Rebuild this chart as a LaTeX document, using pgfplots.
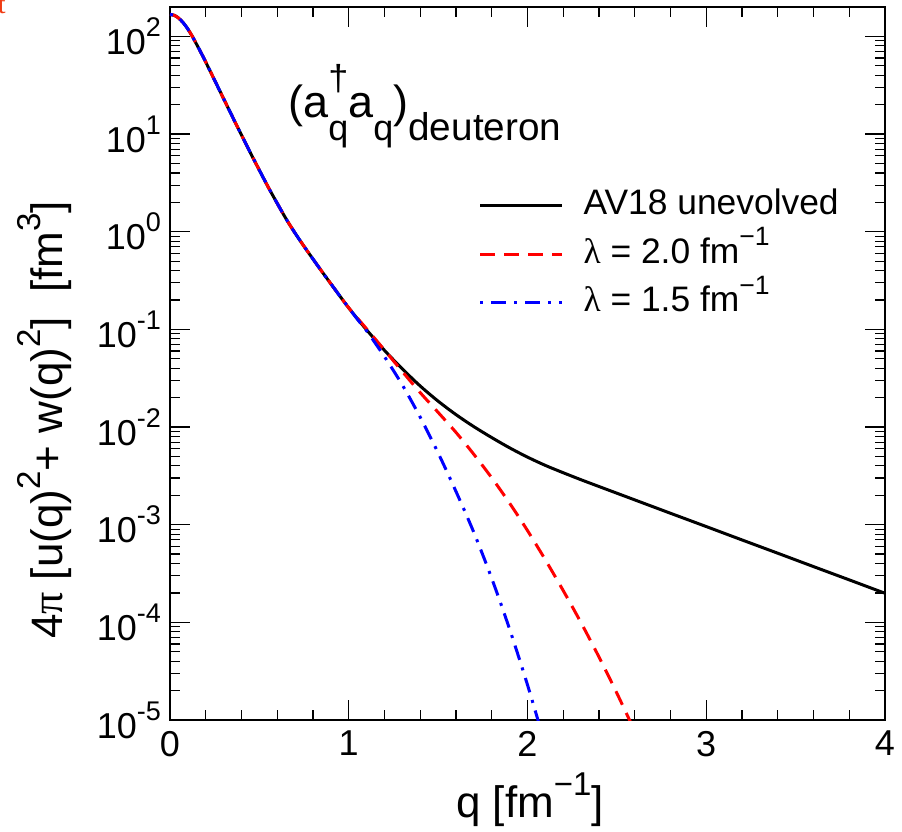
\documentclass[border=0pt]{standalone}
\usepackage{fontspec}
\setmainfont{Liberation Sans}
\newfontfamily\serf{Liberation Serif}
\usepackage{graphicx}
\usepackage{pgfplots}
\usepackage{pgfplotstable}
\pgfplotsset{compat=1.18}
\newcommand\sups[1]{\raisebox{0.5em}{\scalebox{0.75}{#1}}}
\newcommand\subs[1]{\raisebox{-0.5em}{\scalebox{0.8}{#1}}}

\pgfplotstableread{
q y
0 167.9
0.025 164.1
0.05 153.1
0.075 137.1
0.1 118.9
0.125 100.0
0.15 82.22
0.175 67.30
0.2 54.58
0.25 35.48
0.3 23.01
0.35 14.96
0.4 9.772
0.45 6.412
0.5 4.266
0.55 2.851
0.6 1.950
0.65 1.349
0.7 0.9661
0.75 0.7079
0.8 0.5248
0.85 0.3908
0.9 0.2931
0.95 0.2198
1.0 0.1660
1.05 0.1274
1.1 0.09886
1.2 0.06095
1.3 0.03936
1.4 0.02630
1.5 0.01841
1.6 0.01340
1.7 0.01009
1.8 0.007798
1.9 0.006124
2.0 0.004920
2.1 0.004046
2.2 0.003404
2.3 0.002884
2.4 0.002460
2.6 0.001795
2.8 0.001309
3.0 0.0009572
3.2 0.0006982
3.4 0.0005105
3.6 0.0003724
3.8 0.0002723
4.0 0.0001986
}\avxviii

\pgfplotstableread{
q y
0 167.9
0.025 164.1
0.05 153.1
0.075 137.1
0.1 118.9
0.125 100.0
0.15 82.22
0.175 67.30
0.2 54.58
0.25 35.48
0.3 23.01
0.35 14.96
0.4 9.772
0.45 6.412
0.5 4.266
0.55 2.851
0.6 1.950
0.65 1.349
0.7 0.9661
0.75 0.7079
0.8 0.5248
0.85 0.3908
0.9 0.2931
0.95 0.2198
1.0 0.1660
1.1 0.1012
1.2 0.06138
1.3 0.03698
1.4 0.02249
1.5 0.01413
1.6 0.008810
1.7 0.005248
1.8 0.003020
1.9 0.001660
2.0 0.0008710
2.1 0.0004365
2.2 0.0002113
2.3 0.00009886
2.4 0.00004416
2.5 0.00001884
2.6 0.000007674
}\lamtwo

\pgfplotstableread{
q y
0 167.9
0.025 164.1
0.05 153.1
0.075 137.1
0.1 118.9
0.125 100.0
0.15 82.22
0.175 67.30
0.2 54.58
0.25 35.48
0.3 23.01
0.35 14.96
0.4 9.772
0.45 6.412
0.5 4.266
0.55 2.851
0.6 1.950
0.65 1.349
0.7 0.9661
0.75 0.7079
0.8 0.5248
0.85 0.3908
0.9 0.2931
0.95 0.2198
1.0 0.1660
1.05 0.1259
1.1 0.09661
1.2 0.05248
1.3 0.02692
1.4 0.01259
1.5 0.005433
1.6 0.002188
1.7 0.0008318
1.8 0.0002818
1.9 0.00008511
2.0 0.00002291
2.1 0.000005495
}\lamonefive

\begin{document}
\begin{tikzpicture}
\useasboundingbox (-85pt,-56pt) rectangle (366pt,360pt);
\begin{axis}[
  at={(0,0)}, anchor=south west,
  scale only axis, width=357.5pt, height=356.5pt,
  xmin=0, xmax=4, ymode=log, ymin=1e-5, ymax=200,
  xtick={0,1,2,3,4}, xticklabels={0,1,2,3,4},
  minor x tick num=4,
  ytick={1e-5,1e-4,1e-3,1e-2,1e-1,1,10,100},
  yticklabels={10\sups{-5},10\sups{-4},10\sups{-3},10\sups{-2},10\sups{-1},10\sups{0},10\sups{1},10\sups{2}},
  minor ytick={2e-5,3e-5,4e-5,5e-5,6e-5,7e-5,8e-5,9e-5,
    2e-4,3e-4,4e-4,5e-4,6e-4,7e-4,8e-4,9e-4,
    2e-3,3e-3,4e-3,5e-3,6e-3,7e-3,8e-3,9e-3,
    2e-2,3e-2,4e-2,5e-2,6e-2,7e-2,8e-2,9e-2,
    0.2,0.3,0.4,0.5,0.6,0.7,0.8,0.9,
    2,3,4,5,6,7,8,9,20,30,40,50,60,70,80,90},
  tick align=inside, tick pos=both,
  xticklabel pos=bottom, yticklabel pos=left,
  major tick length=10pt, minor tick length=5pt,
  axis line style={line width=1pt},
  every tick/.style={black, line width=0.6pt},
  ticklabel style={font=\fontsize{18}{18}\selectfont},
  xticklabel style={yshift=-2pt},
  yticklabel style={xshift=-1pt},
  legend image code/.code={\draw[#1] (0pt,0pt) -- (41pt,0pt); \path (51pt,0pt);},
  legend style={at={(rel axis cs:0.431,0.745)}, anchor=north west, draw=none, fill=none,
    inner sep=0pt, font=\fontsize{17.7}{18}\selectfont, row sep=7.8pt,
    nodes={inner sep=0pt, text height=12.7pt, text depth=3.8pt}},
  legend cell align=left,
]
\addplot[black, line width=1.5pt, smooth] table[x=q,y=y] {\avxviii};
\addlegendentry{AV18 unevolved}
\addplot[red, line width=1.5pt, smooth, dash pattern=on 7.5pt off 4.5pt] table[x=q,y=y] {\lamtwo};
\addlegendentry{{\serf λ} = 2.0 fm\sups{−1}}
\addplot[blue, line width=1.5pt, smooth, dash pattern=on 1.5pt off 4pt on 7.5pt off 4pt] table[x=q,y=y] {\lamonefive};
\addlegendentry{{\serf λ} = 1.5 fm\sups{−1}}
\end{axis}
\node[anchor=base west, font=\fontsize{22.5}{22.5}\selectfont, inner sep=0pt] at (59pt,301pt)
  {(a\rlap{\raisebox{0.6em}{\scalebox{0.8}{†}}}\subs{q}a\subs{q})\raisebox{-0.5em}{\scalebox{0.86}{deuteron}}};
\node[font=\fontsize{22}{22}\selectfont, inner sep=0pt] at (180pt,-40pt) {q [fm\sups{−1}]};
\node[font=\fontsize{22}{22}\selectfont, inner sep=0pt, rotate=90] at (-62.5pt,150pt)
  {4{\serf π} [u(q)\sups{2}+ w(q)\sups{2}]\ \ [fm\sups{3}]};
\node[anchor=base east, text={rgb,255:red,240;green,60;blue,20}, font=\serf\fontsize{14}{14}\selectfont, inner sep=0pt]
  at (-82pt,353pt) {t};
\end{tikzpicture}
\end{document}
